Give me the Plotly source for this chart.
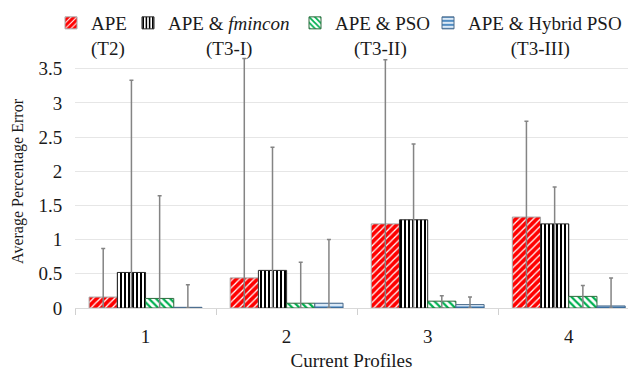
import plotly.graph_objects as go

# Current profiles on the x axis
profiles = ["1", "2", "3", "4"]

# Average percentage error per method
ape_t2 = [0.16, 0.44, 1.23, 1.33]
ape_fmincon = [0.52, 0.55, 1.29, 1.23]
ape_pso = [0.14, 0.07, 0.10, 0.17]
ape_hybrid = [0.01, 0.07, 0.05, 0.03]

# Upper end of each error bar (value + deviation)
top_t2 = [0.87, 3.65, 3.63, 2.73]
top_fmincon = [3.33, 2.35, 2.40, 1.77]
top_pso = [1.64, 0.67, 0.18, 0.33]
top_hybrid = [0.34, 1.00, 0.16, 0.44]

# Left edge (px) of each legend entry
legend_left_px = [51, 128, 295, 428]

series = [
    dict(name="APE<br>(T2)", y=ape_t2, top=top_t2,
         shape="/", fg="#ffffff", bg="#ff0000", line="#a6a6a6", solidity=0.25, size=5),
    dict(name="APE & <i>fmincon</i><br>" + "\u00a0" * 8 + "(T3-I)", y=ape_fmincon, top=top_fmincon,
         shape="|", fg="#000000", bg="#ffffff", line="#262626", solidity=0.5, size=4),
    dict(name="APE & PSO<br>" + "\u00a0" * 4 + "(T3-II)", y=ape_pso, top=top_pso,
         shape="\\", fg="#00b050", bg="#ffffff", line="#2e6b3e", solidity=0.45, size=5),
    dict(name="APE & Hybrid PSO<br>" + "\u00a0" * 9 + "(T3-III)", y=ape_hybrid, top=top_hybrid,
         shape="-", fg="#2e75b6", bg="#dbe9f6", line="#4a6a8a", solidity=0.4, size=5),
]

font_family = "Liberation Serif"

# Plot area spans y = 55..308 px of a 371 px tall figure
W, H = 628, 371
M_L, M_B = 75, 63
PLOT_TOP = 55
paper_h = H - M_B

fig = go.Figure()
legends = {}
for i, s in enumerate(series):
    upper = [t - v for t, v in zip(s["top"], s["y"])]
    legend_id = "legend" if i == 0 else f"legend{i + 1}"
    fig.add_trace(go.Bar(
        x=profiles,
        y=s["y"],
        name=s["name"],
        legend=legend_id,
        showlegend=True,
        marker=dict(
            color=s["bg"],
            line=dict(color=s["line"], width=1),
            pattern=dict(shape=s["shape"], fgcolor=s["fg"], bgcolor=s["bg"],
                         size=s["size"], solidity=s["solidity"], fillmode="replace"),
        ),
        error_y=dict(type="data", symmetric=False, array=upper, arrayminus=s["y"],
                     color="#848484", thickness=1.5, width=2),
    ))
    legends[legend_id] = dict(
        orientation="h",
        xref="container", yref="container",
        x=legend_left_px[i] / W, y=1 - 4 / H,
        xanchor="left", yanchor="top",
        valign="top",
        font=dict(family=font_family, size=19, color="#1a1a1a"),
        itemwidth=30,
        bgcolor="rgba(0,0,0,0)",
    )

fig.update_layout(
    width=W,
    height=H,
    showlegend=True,
    margin=dict(l=M_L, r=0, t=0, b=M_B, autoexpand=False),
    paper_bgcolor="white",
    plot_bgcolor="white",
    barmode="group",
    bargap=0.2,
    bargroupgap=0,
    font=dict(family=font_family, color="#1a1a1a", size=19),
    xaxis=dict(
        range=[-0.5, 3.42],
        tickson="boundaries",
        ticks="outside",
        ticklen=6,
        tickcolor="#d0d0d0",
        ticklabelstandoff=11,
        showline=True,
        linecolor="#d9d9d9",
        linewidth=1,
        showgrid=False,
        tickfont=dict(size=19),
        title=dict(text="Current Profiles", font=dict(size=19), standoff=10),
    ),
    yaxis=dict(
        domain=[0, (paper_h - PLOT_TOP) / paper_h],
        range=[0, 3.7],
        tickvals=[0, 0.5, 1, 1.5, 2, 2.5, 3, 3.5],
        ticktext=["0", "0.5", "1", "1.5", "2", "2.5", "3", "3.5"],
        ticks="outside",
        ticklen=8,
        tickcolor="rgba(0,0,0,0)",
        showgrid=True,
        gridcolor="#e6e6e6",
        gridwidth=1,
        zeroline=False,
        tickfont=dict(size=19),
        title=dict(text="Average Percentage Error", font=dict(size=16), standoff=10),
    ),
    **legends,
)

fig.write_html("out.html")
